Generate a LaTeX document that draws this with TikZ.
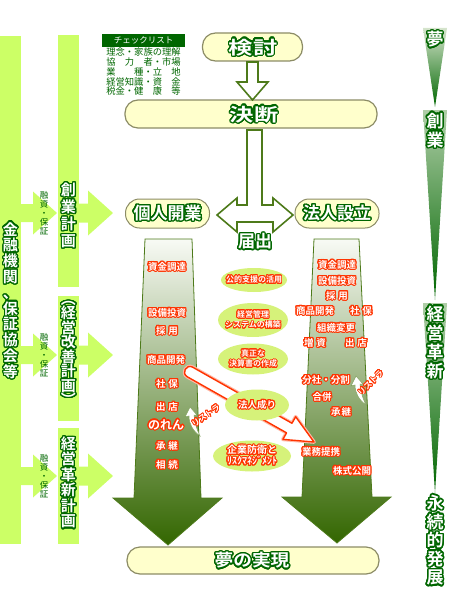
\documentclass[tikz,border=0pt]{standalone}
\usepackage{fontspec}
\usepackage{graphicx}
\usepackage[copies]{contour}
\setmainfont{Noto Sans CJK JP}[BoldFont={Noto Sans CJK JP Bold}]
\usetikzlibrary{shapes.geometric}
\definecolor{lime}{HTML}{CCFF66}
\definecolor{ellg}{HTML}{D6F27A}
\definecolor{dg}{HTML}{006600}
\definecolor{rd}{HTML}{FF3300}
\definecolor{cream}{HTML}{FFFFCC}
\definecolor{boxline}{HTML}{8C8C66}
\definecolor{arrdark}{HTML}{336600}
\definecolor{arrlight}{HTML}{F8FAF5}
\definecolor{arrline}{HTML}{4D7A1A}
\definecolor{wtop}{HTML}{D5E4CC}
\definecolor{wtopb}{HTML}{B0CEA8}
\contournumber{24}
\newcommand{\gw}[2][1.3pt]{\contourlength{#1}\contour{dg}{#2}}
\newcommand{\rw}[2][1.05pt]{\contourlength{#1}\contour{rd}{#2}}
\newcommand{\ml}[3]{\parbox{#1}{\centering\baselineskip=#2\lineskiplimit=-\maxdimen\relax #3\par}}
\tikzset{
  cbox/.style={draw=boxline, line width=1.2pt, fill=cream, rounded corners=13pt, inner sep=0pt},
  pill/.style={draw=boxline, line width=1pt, fill=cream, rounded corners=14pt, inner sep=0pt},
  ell/.style={ellipse, fill=ellg, draw=none, inner sep=0pt},
  bigtxt/.style={text=white, inner sep=0pt, font=\bfseries\fontsize{18}{20}\selectfont},
  midtxt/.style={text=white, inner sep=0pt, font=\bfseries\fontsize{17}{19}\selectfont},
  vtxt/.style={text=white, inner sep=0pt, font=\bfseries\fontsize{15}{16}\selectfont},
  rtxt/.style={text=white, inner sep=0pt, font=\bfseries\fontsize{17}{19}\selectfont},
  redtxt/.style={text=white, inner sep=0pt, font=\bfseries\fontsize{9.5}{10}\selectfont},
  elltxt/.style={text=white, inner sep=0pt, font=\bfseries\fontsize{8}{9}\selectfont},
  smalltxt/.style={text=dg, inner sep=0pt, font=\fontsize{8.5}{9}\selectfont},
  cltxt/.style={text=dg, inner sep=0pt, font=\fontsize{9.3}{10}\selectfont},
  bigarrow/.style={top color=arrlight, bottom color=arrdark, draw=arrline, line width=0.8pt},
  blockarrow/.style={fill=white, draw=arrline, line width=1.6pt, line join=miter},
  swoosh/.style={fill=white, draw=arrline!70, line width=0.5pt}
}
\begin{document}
\begin{tikzpicture}[x=1pt,y=-1pt]
\useasboundingbox (0,0) rectangle (450,594);

% left bars
\fill[lime] (0,36) rectangle (21,544);
\fill[lime] (58,35) rectangle (79,287);
\fill[lime] (58,296) rectangle (79,421);
\fill[lime] (58,428) rectangle (79,544);

% small lime arrows
\foreach \cy in {213,355,476} {
  \fill[lime] (21,{\cy-9}) -- (33,{\cy-9}) -- (33,{\cy-21.5}) -- (57,\cy) -- (33,{\cy+21.5}) -- (33,{\cy+9}) -- (21,{\cy+9}) -- cycle;
  \fill[lime] (79,{\cy-9.5}) -- (88,{\cy-9.5}) -- (88,{\cy-22.5}) -- (113,\cy) -- (88,{\cy+22.5}) -- (88,{\cy+9.5}) -- (79,{\cy+9.5}) -- cycle;
  \node[smalltxt] (yushi\cy) at (44,\cy) {\ml{1.2em}{9pt}{融\\資\\・\\保\\証}};
}

% vertical texts on bars
\node[vtxt] (kinyu) at (10.5,301) {\gw[1.2pt]{\ml{1.2em}{15.8pt}{金\\融\\機\\関\\、\\保\\証\\協\\会\\等}}};
\node[vtxt] (sogyo) at (68.5,216) {\gw[1.2pt]{\ml{1.2em}{17pt}{創\\業\\計\\画}}};
\node[vtxt] (kaizen) at (68.5,354) {\gw[1.2pt]{\ml{1.2em}{14.5pt}{︵\\経\\営\\改\\善\\計\\画\\︶}}};
\node[vtxt] (kakushin) at (68.5,483) {\gw[1.2pt]{\ml{1.2em}{15.5pt}{経\\営\\革\\新\\計\\画}}};

% checklist
\node[fill=dg, minimum width=83pt, minimum height=13pt, inner sep=0pt, text=white,
      font=\fontsize{8.5}{9}\selectfont] (cl) at (143.5,40.5) {チェックリスト};
\node[cltxt] (cl1) at (143.5,52) {理念・家族の理解};
\node[cltxt] (cl2) at (143.5,62) {協　力　者・市場};
\node[cltxt] (cl3) at (143.5,72) {業　　種・立　地};
\node[cltxt] (cl4) at (143.5,81.5) {経営知識・資　金};
\node[cltxt] (cl5) at (143.5,91) {税金・健　康　等};

% top boxes
\node[cbox, minimum width=100pt, minimum height=28pt] (kentobox) at (252.5,47) {};
\node[bigtxt] (kento) at (253,48) {\gw[1.4pt]{\scalebox{1.35}[1]{検討}}};
\node[cbox, minimum width=252pt, minimum height=28pt] (ketsudanbox) at (251,114) {};
\node[bigtxt] (ketsudan) at (254,115) {\gw[1.4pt]{\scalebox{1.35}[1]{決断}}};

% arrow kento -> ketsudan
\draw[blockarrow] (247,62) -- (258,62) -- (258,82) -- (268,82) -- (252.5,100) -- (237,82) -- (247,82) -- cycle;

% T arrow
\draw[blockarrow] (247,130) -- (262,130) -- (262,205) -- (273,205) -- (273,198) -- (293,215) -- (273,232) -- (273,222)
  -- (237,222) -- (237,232) -- (217,215) -- (237,198) -- (237,205) -- (247,205) -- cycle;
\node[midtxt] (todoke) at (255,242) {\gw[1.3pt]{届出}};

% pills
\node[pill, minimum width=84pt, minimum height=29pt] (kojinbox) at (167.5,213.5) {};
\node[midtxt] (kojin) at (167.5,213.5) {\gw[1.3pt]{個人開業}};
\node[pill, minimum width=84pt, minimum height=29pt] (hojinbox) at (337,213.5) {};
\node[midtxt] (hojin) at (337,213.5) {\gw[1.3pt]{法人設立}};

% big arrows
\shade[bigarrow] (145,239) -- (192,239) -- (201,498) -- (222,498) -- (168,545) -- (113,498) -- (134,498) -- cycle;
\shade[bigarrow] (314,239) -- (359,239) -- (372,497) -- (391,497) -- (337,543) -- (282,497) -- (302,497) -- cycle;

% yume box
\node[cbox, minimum width=252pt, minimum height=27pt] (yumebox) at (253,560.5) {};
\node[midtxt] (yume) at (252,561) {\gw[1.4pt]{\scalebox{1.1}[1]{夢の実現}}};

% red arrow (hojin nari)
\coordinate (rstart) at (190,372);
\coordinate (rend) at (314,442);
\begin{scope}[shift={(rstart)}, rotate=-29.45]
  \path[draw=rd!35, line width=3.6pt, line join=round] (0,-5.5) -- (114,-5.5) -- (114,-13) -- (142.4,0) -- (114,13) -- (114,5.5) -- (0,5.5) .. controls (-7.3,5.5) and (-7.3,-5.5) .. (0,-5.5) -- cycle;
  \path[fill=white, draw=rd, line width=1.4pt, line join=round] (0,-5.5) -- (114,-5.5) -- (114,-13) -- (142.4,0) -- (114,13) -- (114,5.5) -- (0,5.5) .. controls (-7.3,5.5) and (-7.3,-5.5) .. (0,-5.5) -- cycle;
\end{scope}

% ellipses
\node[ell, minimum width=66pt, minimum height=24pt] (e1) at (254,280) {};
\node[ell, minimum width=70pt, minimum height=34pt] (e2) at (253,320) {};
\node[ell, minimum width=70pt, minimum height=31pt] (e3) at (253,359) {};
\node[ell, minimum width=64pt, minimum height=31pt] (e4) at (257,405) {};
\node[ell, minimum width=78pt, minimum height=31pt] (e5) at (252,456) {};
\node[elltxt] (t1) at (e1) {\rw[0.85pt]{公的支援の活用}};
\node[elltxt] (t2) at (e2) {\rw[0.85pt]{\ml{8em}{10.5pt}{経営管理\\システムの構築}}};
\node[elltxt] (t3) at (e3) {\rw[0.85pt]{\ml{8em}{10.5pt}{真正な\\決算書の作成}}};
\node[elltxt, font=\bfseries\fontsize{9.5}{10}\selectfont] (t4) at (e4) {\rw{法人成り}};
\node[elltxt, font=\bfseries\fontsize{10}{11}\selectfont] (t5) at (e5) {\rw{\ml{8em}{11pt}{企業防衛と\\ﾘｽｸﾏﾈｼﾞﾒﾝﾄ}}};

% texts in left big arrow
\node[redtxt] (l1) at (167,267) {\rw{資金調達}};
\node[redtxt] (l2) at (167,313) {\rw{設備投資}};
\node[redtxt] (l3) at (167,331) {\rw{採\hspace{3pt}用}};
\node[redtxt] (l4) at (166,360) {\rw{商品開発}};
\node[redtxt] (l5) at (167,384) {\rw{社\hspace{3pt}保}};
\node[redtxt] (l6) at (167,407) {\rw{出\hspace{3pt}店}};
\node[redtxt, font=\bfseries\fontsize{12}{13}\selectfont] (l7) at (166,425) {\rw{のれん}};
\node[redtxt] (l8) at (167,446) {\rw{承\hspace{3pt}継}};
\node[redtxt] (l9) at (167,465) {\rw{相\hspace{3pt}続}};

% texts in right big arrow
\node[redtxt] (r1) at (337,265) {\rw{資金調達}};
\node[redtxt] (r2) at (337,281) {\rw{設備投資}};
\node[redtxt] (r3) at (337,296) {\rw{採\hspace{3pt}用}};
\node[redtxt] (r4) at (315,311) {\rw{商品開発}};
\node[redtxt] (r5) at (361,311) {\rw{社\hspace{3pt}保}};
\node[redtxt] (r6) at (336,328) {\rw{組織変更}};
\node[redtxt] (r7) at (315,343) {\rw{増\hspace{3pt}資}};
\node[redtxt] (r8) at (356,343) {\rw{出\hspace{3pt}店}};
\node[redtxt] (r9) at (326,380) {\rw{分社・分割}};
\node[redtxt] (r10) at (322,397) {\rw{合併}};
\node[redtxt] (r11) at (341,412) {\rw{承\hspace{1pt}継}};
\node[redtxt] (r12) at (321,452) {\rw{業務提携}};
\node[redtxt] (r13) at (352,471) {\rw{株式公開}};

% restructuring swooshes
\path[swoosh] (190,407) -- (197,415) -- (194,415) .. controls (195,424) and (197,430) .. (200,436)
  .. controls (193,431) and (189,424) .. (189,416) -- (185,417) -- cycle;
\begin{scope}[shift={(166,-31)}]
\path[swoosh] (190,407) -- (197,415) -- (194,415) .. controls (195,424) and (197,430) .. (200,436)
  .. controls (193,431) and (189,424) .. (189,416) -- (185,417) -- cycle;
\end{scope}
\node[redtxt, font=\bfseries\fontsize{8}{9}\selectfont, rotate=35] (rs1) at (206,416) {\rw[0.8pt]{リストラ}};
\node[redtxt, font=\bfseries\fontsize{8}{9}\selectfont, rotate=45] (rs2) at (371,383) {\rw[0.8pt]{リストラ}};

% right wedges
\shade[top color=wtop, bottom color=dg] (423,28) -- (447,28) -- (435,107) -- cycle;
\shade[top color=wtopb, bottom color=dg] (423,110) -- (447,110) -- (435,300) -- cycle;
\shade[top color=wtopb, bottom color=dg] (423,303) -- (447,303) -- (435,493) -- cycle;
\node[rtxt] (yumeR) at (435,40) {\gw[1.4pt]{夢}};
\node[rtxt] (sogyoR) at (435,131) {\gw[1.4pt]{\ml{1.2em}{19pt}{創\\業}}};
\node[rtxt] (kakushinR) at (435,343) {\gw[1.5pt]{\ml{1.2em}{19pt}{経\\営\\革\\新}}};
\node[rtxt] (eizokuR) at (435,541) {\gw[1.5pt]{\ml{1.2em}{18.6pt}{永\\続\\的\\発\\展}}};
\end{tikzpicture}
\end{document}
